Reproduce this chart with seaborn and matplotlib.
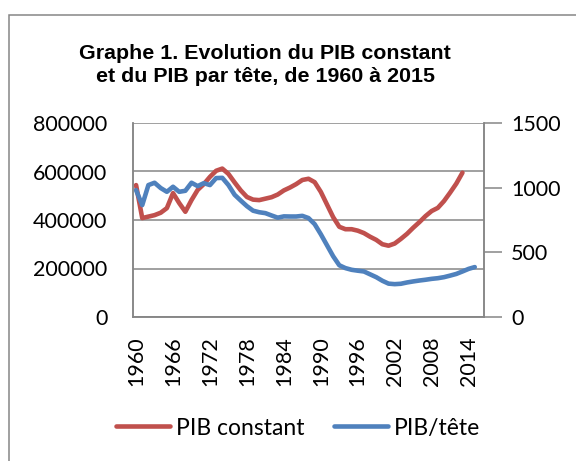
import seaborn as sns
import pandas as pd
import matplotlib.pyplot as plt
from matplotlib.lines import Line2D
from matplotlib.patches import Rectangle

# PIB constant, 1960-2013
pib_years = list(range(1960, 2014))
pib_constant = [544000, 408000, 414000, 420000, 430000, 449000, 511000, 470000, 434000, 482000,
                524000, 548000, 578000, 603000, 612000, 590000, 555000, 522000, 495000, 484000,
                482000, 488000, 494000, 505000, 522000, 534000, 548000, 565000, 570000, 556000,
                516000, 464000, 412000, 372000, 362000, 362000, 356000, 346000, 331000, 318000,
                300000, 294000, 303000, 322000, 343000, 368000, 391000, 416000, 437000, 450000,
                478000, 513000, 550000, 595000]

# PIB par tete, 1960-2015
tete_years = list(range(1960, 2016))
pib_tete = [981, 865, 1020, 1038, 997, 968, 1007, 968, 976, 1038,
            1012, 1035, 1020, 1074, 1076, 1020, 945, 900, 857, 822,
            810, 803, 785, 768, 778, 777, 777, 782, 765, 718,
            640, 555, 470, 400, 378, 365, 358, 352, 330, 308,
            280, 258, 254, 257, 267, 275, 282, 288, 295, 300,
            308, 320, 333, 352, 372, 386]

year_ticks = list(range(1960, 2015, 6))
left_ticks = [0, 200000, 400000, 600000, 800000]
right_ticks = [0, 500, 1000, 1500]

red = "#C0504D"
blue = "#4F81BD"
gray = "#868686"

sns.set_style("white")
plt.rcParams['font.family'] = ['Lato', 'DejaVu Sans']
plt.rcParams['text.color'] = 'black'
plt.rcParams['xtick.labelcolor'] = 'black'
plt.rcParams['ytick.labelcolor'] = 'black'

fig = plt.figure(figsize=(5.76, 4.61), dpi=100)
ax = fig.add_axes([133 / 576, 1 - 317 / 461, 351 / 576, 194 / 461])
ax2 = ax.twinx()

df1 = pd.DataFrame({"annee": pib_years, "valeur": pib_constant})
df2 = pd.DataFrame({"annee": tete_years, "valeur": pib_tete})
sns.lineplot(data=df1, x="annee", y="valeur", ax=ax, color=red, linewidth=3.3)
sns.lineplot(data=df2, x="annee", y="valeur", ax=ax2, color=blue, linewidth=3.3)

ax.set_xlim(1959.5, 2016.5)
ax.set_ylim(0, 800000)
ax2.set_ylim(0, 1500)
ax.set_xticks(year_ticks)
ax.set_yticks(left_ticks)
ax2.set_yticks(right_ticks)
ax.set_xticklabels([str(y) for y in year_ticks], rotation=90)
ax.set_yticklabels([str(v) for v in left_ticks])
ax2.set_yticklabels([str(v) for v in right_ticks])
ax.set_xlabel("")
ax.set_ylabel("")
ax2.set_ylabel("")

ax.grid(axis="y", color=gray, linewidth=1.1)
ax.grid(axis="x", visible=False)
ax.tick_params(axis="y", length=0, pad=18.5, labelsize=15.5, labelcolor="black")
ax.tick_params(axis="x", length=0, pad=14, labelsize=15.5, labelcolor="black")
ax2.tick_params(axis="y", length=13, width=1.1, color=gray, pad=6.5, labelsize=15.5,
                direction="out", labelcolor="black")

for a in (ax, ax2):
    a.spines["top"].set_visible(False)
    for s in ("left", "right", "bottom"):
        a.spines[s].set_color(gray)
        a.spines[s].set_linewidth(1.1)

fig.text(265 / 576, 1 - 65 / 461, "Graphe 1. Evolution du PIB constant\net du PIB par tête, de 1960 à 2015",
         ha="center", va="center", fontsize=15.4, fontweight="bold", color="black",
         family=["Liberation Sans", "DejaVu Sans"], linespacing=1.25)

handles = [Line2D([], [], color=red, linewidth=3.3), Line2D([], [], color=blue, linewidth=3.3)]
fig.legend(handles, ["PIB constant", "PIB/tête"], loc="center", bbox_to_anchor=(298 / 576, 1 - 428 / 461),
           ncol=2, frameon=False, fontsize=16.5, handlelength=2.35, handletextpad=0.25, columnspacing=1.3)

fig.patches.append(Rectangle((9 / 576, -0.05), 1.1, 1 - 15 / 461 + 0.05, transform=fig.transFigure,
                             fill=False, edgecolor=gray, linewidth=1.1))

fig.savefig("out.png", dpi=100)
